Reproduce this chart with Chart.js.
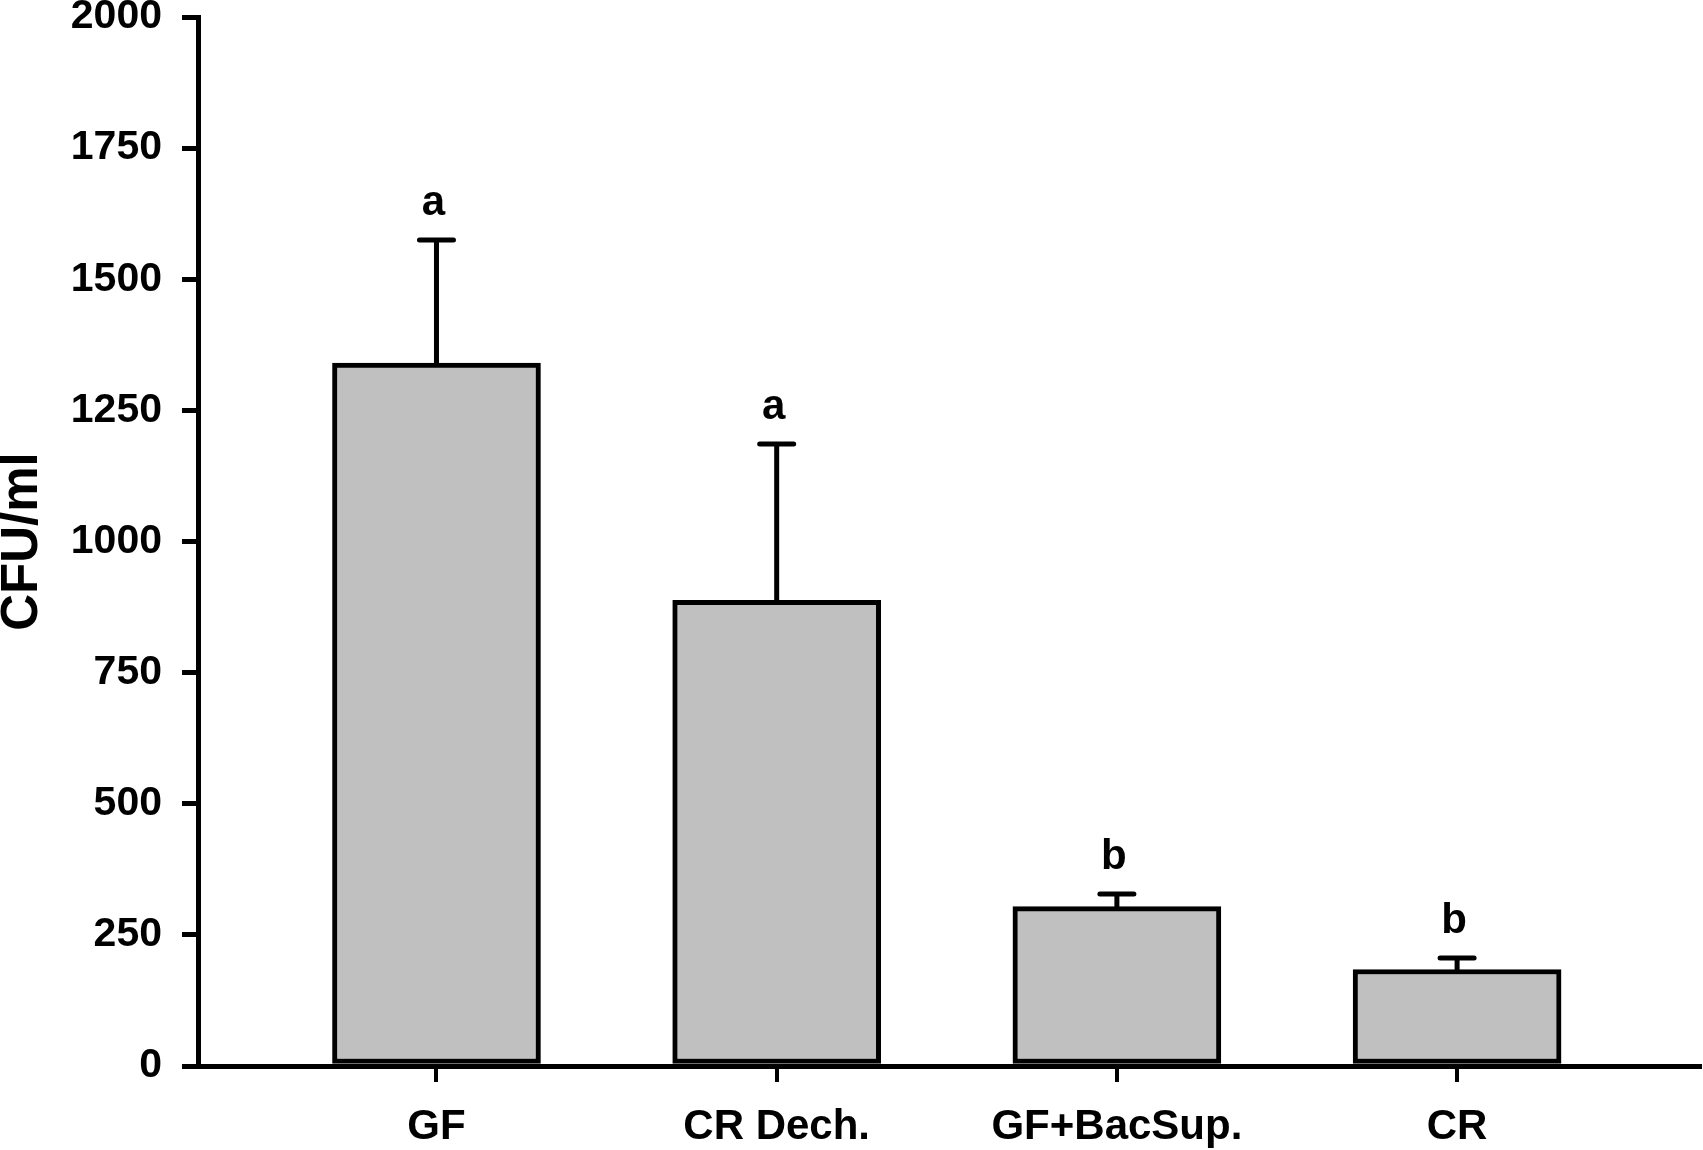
<!DOCTYPE html>
<html>
<head>
<meta charset="utf-8">
<script src="https://cdn.jsdelivr.net/npm/chart.js@4.4.0/dist/chart.umd.min.js"></script>
<style>
    body { margin: 0; background: #ffffff; }
    #wrap { width: 1703px; height: 1150px; }
</style>
</head>
<body>
<div id="wrap"><canvas id="cfuChart" width="1703" height="1150"></canvas></div>
<script>
const categories = ['GF', 'CR Dech.', 'GF+BacSup.', 'CR'];
const means = [1340, 888, 304, 184];
const errors = [235, 298, 24, 22];
const letters = ['a', 'a', 'b', 'b'];
const yTicks = [0, 250, 500, 750, 1000, 1250, 1500, 1750, 2000];

const FONT = '"Liberation Sans", Arial, sans-serif';

// error bars + significance letters on top of each bar
const errorBarPlugin = {
    id: 'errorBars',
    afterDatasetsDraw(chart) {
        const ctx = chart.ctx;
        const yScale = chart.scales.y;
        const meta = chart.getDatasetMeta(0);
        ctx.save();
        ctx.strokeStyle = '#000';
        ctx.fillStyle = '#000';
        ctx.lineWidth = 5;
        ctx.lineCap = 'round';
        meta.data.forEach((bar, i) => {
            const top = yScale.getPixelForValue(means[i] + errors[i]);
            ctx.beginPath();
            ctx.moveTo(bar.x, bar.y);
            ctx.lineTo(bar.x, top);
            ctx.moveTo(bar.x - 17, top);
            ctx.lineTo(bar.x + 17, top);
            ctx.stroke();

            ctx.font = 'bold 42px ' + FONT;
            ctx.textAlign = 'center';
            ctx.textBaseline = 'alphabetic';
            ctx.fillText(letters[i], bar.x - 3, top - 25);
        });
        ctx.restore();
    }
};

new Chart(document.getElementById('cfuChart'), {
    type: 'bar',
    data: {
        datasets: [{
            data: means.map((v, i) => ({ x: i + 1, y: v })),
            backgroundColor: '#c0c0c0',
            borderColor: '#000000',
            borderWidth: 5,
            borderSkipped: false,
            barThickness: 208
        }]
    },
    options: {
        responsive: false,
        devicePixelRatio: 1,
        animation: false,
        layout: { padding: { top: 17, right: 3, left: 0, bottom: 0 } },
        plugins: {
            legend: { display: false },
            tooltip: { enabled: false }
        },
        scales: {
            x: {
                type: 'linear',
                offset: false,
                min: 0.299,
                max: 4.714,
                afterBuildTicks(scale) {
                    scale.ticks = categories.map((c, i) => ({ value: i + 1 }));
                },
                afterFit(scale) {
                    scale.height = 84;
                    scale.paddingLeft = 0;
                    scale.paddingRight = 0;
                },
                grid: {
                    offset: false,
                    drawOnChartArea: false,
                    color: '#000',
                    lineWidth: 4,
                    tickLength: 16
                },
                border: { color: '#000', width: 5 },
                ticks: {
                    color: '#000',
                    padding: 20,
                    maxRotation: 0,
                    autoSkip: false,
                    font: { family: FONT, size: 42, weight: 'bold' },
                    callback: (value) => categories[value - 1] || ''
                }
            },
            y: {
                min: 0,
                max: 2000,
                afterBuildTicks(scale) {
                    scale.ticks = yTicks.map(v => ({ value: v }));
                },
                afterFit(scale) {
                    scale.width = 198;
                    scale.paddingTop = 0;
                    scale.paddingBottom = 0;
                },
                grid: {
                    drawOnChartArea: false,
                    color: '#000',
                    lineWidth: 5,
                    tickLength: 16
                },
                border: { color: '#000', width: 5 },
                ticks: {
                    color: '#000',
                    padding: 20,
                    font: { family: FONT, size: 41, weight: 'bold' },
                    callback: (value) => String(value)
                },
                title: {
                    display: true,
                    text: 'CFU/ml',
                    color: '#000',
                    padding: 0,
                    font: { family: FONT, size: 51, weight: 'bold', lineHeight: 0.9 }
                }
            }
        }
    },
    plugins: [errorBarPlugin]
});
</script>
</body>
</html>
